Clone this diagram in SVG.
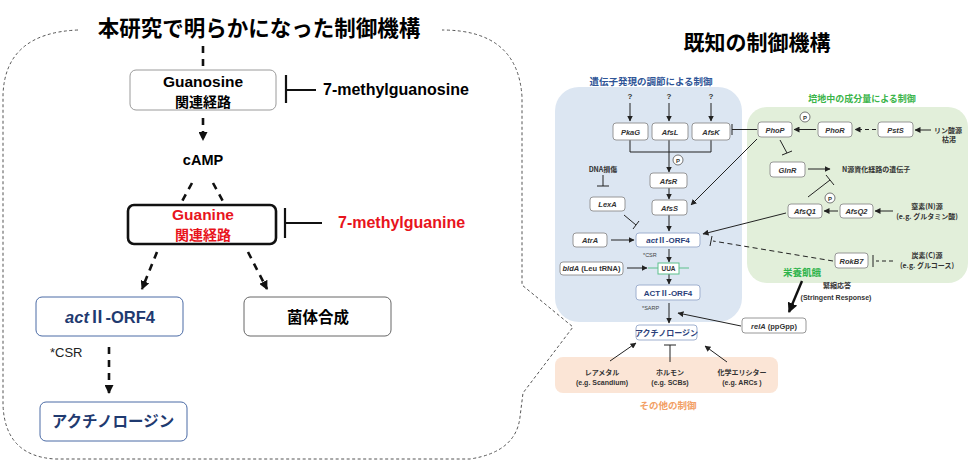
<svg xmlns="http://www.w3.org/2000/svg" width="971" height="461" viewBox="0 0 971 461">
<defs>
<style>
text{font-family:"Liberation Sans","Noto Sans CJK JP",sans-serif;}
.jp{font-family:"Noto Sans CJK JP","Liberation Sans",sans-serif;}
.b{font-weight:bold;}
.big{font-size:16px;font-weight:bold;}
.c{text-anchor:middle;}
.sb{fill:#fff;stroke:#8c8c8c;stroke-width:0.9;}
.st{font-size:7.5px;font-weight:bold;font-style:italic;fill:#333;text-anchor:middle;}
.bb{fill:#fff;stroke:#9fb0cf;stroke-width:1;}
.bt{font-size:8px;font-weight:bold;fill:#2b3f7a;text-anchor:middle;}
.ln{stroke:#222;stroke-width:1;fill:none;}
.dl{stroke:#111;stroke-width:2.6;fill:none;stroke-dasharray:7 6;}
.sm{font-size:7px;fill:#333;font-weight:bold;}
</style>
<marker id="ah" markerUnits="userSpaceOnUse" markerWidth="6" markerHeight="6" refX="5.5" refY="3" orient="auto"><path d="M0,0 L6,3 L0,6 z" fill="#222"/></marker>
<marker id="ahL" markerUnits="userSpaceOnUse" markerWidth="9" markerHeight="9" refX="8" refY="4.5" orient="auto"><path d="M0,0 L9,4.5 L0,9 z" fill="#111"/></marker>
<marker id="ahB" markerUnits="userSpaceOnUse" markerWidth="10" markerHeight="10" refX="9" refY="5" orient="auto"><path d="M0,0 L10,5 L0,10 z" fill="#111"/></marker>
</defs>
<rect width="971" height="461" fill="#fff"/>

<!-- left panel outline -->
<path d="M78,30 Q5,33 3,95 L3,405 Q5,456 55,459 L470,459 Q516,452 520,417 L523,393 L573,327 L522,285 L522,97 Q518,30 442,30" fill="none" stroke="#555" stroke-width="1" stroke-dasharray="3 2.5"/>
<text x="259" y="36" class="c b jp" font-size="21.5">本研究で明らかになった制御機構</text>

<!-- right panel backgrounds -->
<rect x="555" y="87" width="187" height="235" rx="24" fill="#dce6f2"/>
<rect x="747" y="107" width="221" height="176" rx="20" fill="#e2efda"/>
<rect x="555" y="357" width="223" height="36" rx="8" fill="#fbe5d6"/>
<text x="757" y="50" class="c b jp" font-size="21">既知の制御機構</text>
<text x="651" y="85" class="c b jp" font-size="9.5" fill="#2f5597">遺伝子発現の調節による制御</text>
<text x="862" y="102" class="c b jp" font-size="9" fill="#3bb54a">培地中の成分量による制御</text>
<text x="668" y="409" class="c b jp" font-size="9.5" fill="#f2a065">その他の制御</text>

<g id="connectors">
  <!-- left -->
  <line x1="203" y1="46" x2="203" y2="70" class="dl"/>
  <line x1="203" y1="118" x2="203" y2="140" class="dl" marker-end="url(#ahL)"/>
  <line x1="192" y1="183" x2="180" y2="205" class="dl"/>
  <line x1="213" y1="183" x2="225" y2="205" class="dl"/>
  <line x1="157" y1="252" x2="142" y2="289" class="dl" marker-end="url(#ahL)"/>
  <line x1="248" y1="252" x2="267" y2="289" class="dl" marker-end="url(#ahL)"/>
  <line x1="109" y1="347" x2="109" y2="393" class="dl" stroke-dasharray="10 6" marker-end="url(#ahL)"/>
  <path d="M286,75 V103 M286,90 H316" stroke="#111" stroke-width="2.2" fill="none"/>
  <path d="M285,208 V238 M285,223 H322" stroke="#111" stroke-width="2.2" fill="none"/>

  <!-- right: blue -->
  <line x1="630" y1="103" x2="630" y2="121" class="ln" marker-end="url(#ah)"/>
  <line x1="669" y1="103" x2="669" y2="121" class="ln" marker-end="url(#ah)"/>
  <line x1="711" y1="103" x2="711" y2="121" class="ln" marker-end="url(#ah)"/>
  <path d="M630,140 V152 H711 V140" class="ln"/>
  <line x1="669" y1="140" x2="669" y2="172" class="ln" marker-end="url(#ah)"/>
  <line x1="669" y1="188" x2="669" y2="199" class="ln" marker-end="url(#ah)"/>
  <line x1="669" y1="215" x2="669" y2="231" class="ln" marker-end="url(#ah)"/>
  <path d="M603,175 V186 M597,186 H609" class="ln"/>
  <path d="M624,215 L636,225 M633,229 L639,221" class="ln"/>
  <line x1="611" y1="240" x2="634" y2="240" class="ln" marker-end="url(#ah)"/>
  <line x1="669" y1="249" x2="669" y2="262" class="ln" marker-end="url(#ah)"/>
  <line x1="627" y1="268" x2="647" y2="268" class="ln" marker-end="url(#ah)"/>
  <line x1="669" y1="274" x2="669" y2="284" class="ln" marker-end="url(#ah)"/>
  <line x1="669" y1="303" x2="669" y2="323" class="ln" marker-end="url(#ah)"/>
  <line x1="741" y1="326" x2="678" y2="313" class="ln" stroke-width="1.3" marker-end="url(#ah)"/>
  <line x1="610" y1="361" x2="636" y2="343" class="ln" marker-end="url(#ah)"/>
  <path d="M670,362 V345 M664,345 H676" class="ln" stroke-width="1.3"/>
  <line x1="727" y1="362" x2="705" y2="346" class="ln" marker-end="url(#ah)"/>
  <!-- right: green -->
  <path d="M757,129.5 H732 M732,124 V135" class="ln"/>
  <line x1="816" y1="129.5" x2="794" y2="129.5" class="ln" marker-end="url(#ah)"/>
  <line x1="876" y1="129.5" x2="855" y2="129.5" class="ln" stroke-dasharray="4 3" marker-end="url(#ah)"/>
  <line x1="931" y1="130" x2="915" y2="130" class="ln" marker-end="url(#ah)"/>
  <line x1="757" y1="139" x2="691" y2="205" class="ln" marker-end="url(#ah)"/>
  <path d="M780,140 L787,153 M782,155 L792,151" class="ln"/>
  <line x1="808" y1="169" x2="830" y2="169" class="ln" marker-end="url(#ah)"/>
  <path d="M808,197 L830,180 M826,175 L834,185" class="ln"/>
  <line x1="838" y1="211" x2="824" y2="211" class="ln" marker-end="url(#ah)"/>
  <line x1="893" y1="211" x2="875" y2="211" class="ln" marker-end="url(#ah)"/>
  <line x1="786" y1="213" x2="703" y2="234" class="ln" marker-end="url(#ah)"/>
  <path d="M833,261 L713,241" class="ln" stroke-dasharray="5 3.5"/>
  <path d="M712,236 L710,246" class="ln"/>
  <path d="M893,261 H876" class="ln" stroke-dasharray="4 3"/>
  <path d="M873,255 V267" class="ln"/>
  <line x1="802" y1="281" x2="789" y2="312" stroke="#111" stroke-width="2.4" marker-end="url(#ahB)"/>
</g>

<!-- left nodes -->
<g id="guanosine">
  <rect x="130" y="70" width="146" height="40" rx="6" fill="#fff" stroke="#9a9a9a" stroke-width="1"/>
  <text x="203" y="87" class="c b" font-size="15.5">Guanosine</text>
  <text x="203" y="107" class="c b jp" font-size="14">関連経路</text>
</g>
<g id="methylguanosine"><text x="323" y="95" class="big" font-size="16">7-methylguanosine</text></g>
<g id="camp"><text x="203" y="165" class="c b" font-size="14.5">cAMP</text></g>
<g id="guanine">
  <rect x="128" y="205" width="148" height="39" rx="6" fill="#fff" stroke="#111" stroke-width="2.6"/>
  <text x="203" y="220" class="c b" font-size="15.5" fill="#e8141c">Guanine</text>
  <text x="203" y="240" class="c b jp" font-size="14" fill="#e8141c">関連経路</text>
</g>
<g id="methylguanine"><text x="338" y="228" class="big" fill="#e8141c">7-methylguanine</text></g>
<g id="actorf4-left">
  <rect x="36" y="297" width="147" height="39" rx="6" fill="#fff" stroke="#4a6aa5" stroke-width="1"/>
  <text x="110" y="323" class="c b" font-size="16.5" fill="#1f3a70"><tspan font-style="italic">act</tspan><tspan class="jp">Ⅱ</tspan>-ORF4</text>
</g>
<g id="kintai">
  <rect x="244" y="297" width="147" height="39" rx="6" fill="#fff" stroke="#666" stroke-width="1"/>
  <text x="318" y="323" class="c b jp" font-size="15.5">菌体合成</text>
</g>
<text x="50" y="357" font-size="13" fill="#222">*CSR</text>
<g id="actinorhodin-left">
  <rect x="40" y="402" width="147" height="39" rx="6" fill="#fff" stroke="#4a6aa5" stroke-width="1"/>
  <text x="113" y="427" class="c b jp" font-size="15.5" fill="#1f3a70">アクチノロージン</text>
</g>

<!-- right nodes -->
<g id="q"><text x="630" y="99" class="c b" font-size="8" fill="#333">?</text><text x="669" y="99" class="c b" font-size="8" fill="#333">?</text><text x="711" y="99" class="c b" font-size="8" fill="#333">?</text></g>
<g id="pkag"><rect x="613" y="123" width="35" height="17" rx="3" class="sb"/><text x="630.5" y="134.5" class="st">PkaG</text></g>
<g id="afsl"><rect x="652" y="123" width="36" height="17" rx="3" class="sb"/><text x="670" y="134.5" class="st">AfsL</text></g>
<g id="afsk"><rect x="692" y="123" width="38" height="17" rx="3" class="sb"/><text x="711" y="134.5" class="st">AfsK</text></g>
<g id="p1"><circle cx="678" cy="160" r="5" fill="#fff" stroke="#555" stroke-width="0.8"/><text x="678" y="162.5" class="c b" font-size="6" fill="#333">P</text></g>
<g id="afsr"><rect x="650" y="173" width="37" height="15" rx="3" class="sb"/><text x="668.5" y="183.5" class="st">AfsR</text></g>
<g id="dna"><text x="603" y="172" class="c sm jp">DNA損傷</text></g>
<g id="lexa"><rect x="590" y="197" width="35" height="14" rx="3" class="sb"/><text x="607.5" y="206.5" class="st">LexA</text></g>
<g id="afss"><rect x="652" y="200" width="35" height="15" rx="3" class="sb"/><text x="669.5" y="210.5" class="st">AfsS</text></g>
<g id="atra"><rect x="573" y="233" width="34" height="14" rx="3" class="sb"/><text x="590" y="242.5" class="st">AtrA</text></g>
<g id="actorf4"><rect x="636" y="233" width="64" height="14" rx="3" class="bb"/><text x="668" y="243" class="bt"><tspan font-style="italic">act</tspan><tspan class="jp">Ⅱ</tspan>-ORF4</text></g>
<text x="643" y="257" font-size="5.5" fill="#444">*CSR</text>
<g id="blda"><rect x="560" y="262" width="63" height="13" rx="3" class="sb"/><text x="591.5" y="271" class="st" font-size="7"><tspan font-style="italic">bldA</tspan><tspan font-style="normal"> (Leu tRNA)</tspan></text></g>
<g id="uua"><line x1="648" y1="268" x2="689" y2="268" stroke="#5cc08c" stroke-width="1"/><rect x="658" y="263" width="21" height="11" fill="#fff" stroke="#5cc08c" stroke-width="1"/><text x="668.5" y="271" class="c b" font-size="6.5" fill="#333">UUA</text></g>
<g id="act-protein"><rect x="636" y="285" width="64" height="15" rx="3" class="bb"/><text x="668" y="295.5" class="bt">ACT<tspan class="jp">Ⅱ</tspan>-ORF4</text></g>
<text x="642" y="310" font-size="5.5" fill="#444">*SARP</text>
<g id="actinorhodin"><rect x="636" y="325" width="61" height="15" rx="3" class="bb"/><text x="666.5" y="335.5" class="bt jp" font-size="7">アクチノロージン</text></g>
<g id="rela"><rect x="742" y="318" width="64" height="15" rx="3" class="sb"/><text x="774" y="328.5" class="c b" font-size="7.5" fill="#333"><tspan font-style="italic">relA</tspan> (ppGpp)</text></g>
<g id="raremetal"><text x="602" y="375" class="c sm jp" font-size="7.5">レアメタル</text><text x="602" y="385" class="c sm" font-size="6.5">(e.g. Scandium)</text></g>
<g id="hormone"><text x="670" y="375" class="c sm jp" font-size="7.5">ホルモン</text><text x="670" y="385" class="c sm" font-size="6.5">(e.g. SCBs)</text></g>
<g id="elicitor"><text x="742" y="375" class="c sm jp" font-size="7.5">化学エリシター</text><text x="742" y="385" class="c sm" font-size="6.5">(e.g. ARCs )</text></g>

<g id="phop"><rect x="758" y="122" width="34" height="15" rx="3" class="sb"/><text x="775" y="132.5" class="st">PhoP</text></g>
<g id="p2"><circle cx="805" cy="117" r="5" fill="#fff" stroke="#555" stroke-width="0.8"/><text x="805" y="119.5" class="c b" font-size="6" fill="#333">P</text></g>
<g id="phor"><rect x="818" y="122" width="34" height="15" rx="3" class="sb"/><text x="835" y="132.5" class="st">PhoR</text></g>
<g id="psts"><rect x="878" y="122" width="35" height="15" rx="3" class="sb"/><text x="895.5" y="132.5" class="st">PstS</text></g>
<g id="phosphate"><text x="948" y="133" class="c sm jp" font-size="7.5">リン酸源</text><text x="949" y="142" class="c sm jp" font-size="7">枯渇</text></g>
<g id="glnr"><rect x="770" y="162" width="35" height="15" rx="3" class="sb"/><text x="787.5" y="172.5" class="st" font-style="normal">GlnR</text></g>
<g id="ngenes"><text x="842" y="172" class="sm jp">N源資化経路の遺伝子</text></g>
<g id="p3"><circle cx="830" cy="198" r="5" fill="#fff" stroke="#555" stroke-width="0.8"/><text x="830" y="200.5" class="c b" font-size="6" fill="#333">P</text></g>
<g id="afsq1"><rect x="788" y="204" width="34" height="14" rx="3" class="sb"/><text x="805" y="213.5" class="st">AfsQ1</text></g>
<g id="afsq2"><rect x="840" y="204" width="33" height="14" rx="3" class="sb"/><text x="856.5" y="213.5" class="st">AfsQ2</text></g>
<g id="nitrogen"><text x="927" y="209" class="c sm jp" font-size="7.5">窒素(N)源</text><text x="927" y="219" class="c sm jp" font-size="7">(e.g. グルタミン酸)</text></g>
<g id="rokb7"><rect x="835" y="253" width="33" height="15" rx="3" class="sb"/><text x="851.5" y="263.5" class="st" font-style="normal" font-size="7">RokB7</text></g>
<g id="carbon"><text x="927" y="258" class="c sm jp" font-size="7.5">炭素(C)源</text><text x="927" y="268" class="c sm jp" font-size="7">(e.g. グルコース)</text></g>
<g id="starvation"><text x="802" y="276" class="c b jp" font-size="9.5" fill="#2db34a">栄養飢餓</text></g>
<g id="stringent"><text x="837" y="288" class="c sm jp" font-size="7">緊縮応答</text><text x="836" y="300" class="c sm" font-size="6.5">(Stringent Response)</text></g>
</svg>
